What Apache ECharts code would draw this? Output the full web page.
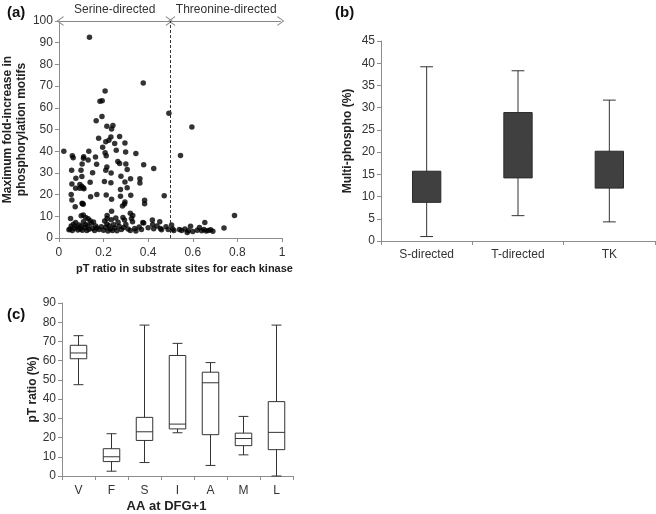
<!DOCTYPE html>
<html>
<head>
<meta charset="utf-8">
<script src="https://cdn.jsdelivr.net/npm/echarts@6/dist/echarts.min.js"></script>
<style>
  html, body { margin: 0; padding: 0; background: #fff; }
  #chart { width: 656px; height: 514px; }
</style>
</head>
<body>
<div id="chart"></div>
<script>
// (a) pT ratio vs max fold-increase, one point per kinase
const scatterPoints = [
  [0.137, 92.5], [0.378, 71.4], [0.207, 67.7], [0.184, 63], [0.194, 63.2],
  [0.193, 56], [0.493, 57.5], [0.596, 51.2], [0.167, 54], [0.215, 51.5],
  [0.242, 51.8], [0.236, 50.2], [0.178, 46], [0.233, 46.5], [0.272, 46.8],
  [0.224, 45], [0.21, 44.4], [0.25, 43.6], [0.296, 43.8], [0.196, 41.8],
  [0.022, 40], [0.134, 40], [0.207, 39.3], [0.257, 40.4], [0.299, 39.6],
  [0.345, 38.9], [0.06, 37.9], [0.064, 37], [0.111, 37.5], [0.11, 36.8],
  [0.164, 37.3], [0.212, 37.9], [0.545, 38], [0.131, 36], [0.264, 35.3],
  [0.272, 34.3], [0.169, 34], [0.104, 34.1], [0.38, 33.8], [0.3, 34.1],
  [0.306, 31.6], [0.425, 32], [0.057, 31.2], [0.099, 31.2], [0.21, 31.2],
  [0.215, 32.7], [0.234, 30], [0.151, 30.1], [0.278, 28.4], [0.076, 27.5],
  [0.103, 28.3], [0.321, 27.3], [0.363, 27.3], [0.363, 25.3], [0.14, 25.7],
  [0.058, 24.9], [0.094, 24.6], [0.102, 23.8], [0.094, 22.9], [0.109, 23.1],
  [0.204, 26], [0.233, 25.5], [0.296, 25.8], [0.075, 22.9], [0.112, 22.7],
  [0.276, 22.3], [0.306, 23.2], [0.472, 19.5], [0.17, 20.1], [0.212, 19.8],
  [0.276, 19.2], [0.055, 20.1], [0.058, 17.5], [0.104, 16], [0.109, 15.6],
  [0.106, 15.8], [0.384, 17.4], [0.384, 15.8], [0.142, 19], [0.236, 17.8],
  [0.296, 16.6], [0.285, 14.7], [0.294, 15.7], [0.073, 14.4], [0.322, 19.7],
  [0.236, 12.3], [0.109, 10.6], [0.32, 11.4], [0.331, 10.4], [0.787, 10.4],
  [0.052, 9], [0.131, 8.9], [0.216, 10.4], [0.216, 9], [0.255, 9.2],
  [0.287, 9.5], [0.294, 8.3], [0.419, 8.3], [0.452, 7.5], [0.654, 7.2],
  [0.376, 7.2], [0.325, 9], [0.1, 10.2], [0.12, 9.5],
  [0.045, 3.8], [0.05, 4.2], [0.055, 5.5], [0.06, 3.5], [0.065, 6.3],
  [0.07, 4.5], [0.075, 7.2], [0.08, 5.1], [0.085, 3.7], [0.09, 6.0],
  [0.095, 4.1], [0.1, 5.4], [0.105, 3.6], [0.11, 7.5], [0.115, 4.8],
  [0.12, 6.2], [0.125, 3.4], [0.13, 5.6], [0.135, 4.0], [0.14, 8.0],
  [0.145, 6.8], [0.15, 4.4], [0.155, 7.4], [0.16, 3.5], [0.165, 5.5],
  [0.17, 4.6], [0.18, 3.9], [0.19, 5.2], [0.2, 3.6], [0.205, 7.8],
  [0.21, 4.9], [0.215, 6.4], [0.22, 3.2], [0.225, 5.6], [0.23, 4.1],
  [0.235, 8.4], [0.24, 3.4], [0.245, 6.1], [0.25, 4.7], [0.26, 3.3],
  [0.265, 7.3], [0.27, 5.4], [0.28, 3.9], [0.29, 4.8], [0.3, 6.2],
  [0.31, 4.2], [0.32, 3.5], [0.33, 7.5], [0.34, 4.4], [0.345, 3.2],
  [0.36, 5.1], [0.37, 3.9], [0.38, 6.9], [0.4, 4.7], [0.42, 6.2],
  [0.425, 4.3], [0.44, 5.5], [0.455, 4.4], [0.46, 3.8], [0.48, 5.2],
  [0.49, 3.9], [0.505, 6.0], [0.51, 4.1], [0.515, 3.4], [0.54, 3.9],
  [0.55, 3.5], [0.565, 4.2], [0.575, 2.5], [0.58, 3.3], [0.59, 5.4],
  [0.6, 3.0], [0.62, 3.6], [0.63, 4.8], [0.64, 3.3], [0.65, 3.9],
  [0.66, 3.2], [0.67, 3.5], [0.68, 3.8], [0.69, 3.1], [0.74, 4.6]
];

// (b) multi-phospho boxes: [min, q1, median, q3, max]
const groupB = ['S-directed', 'T-directed', 'TK'];
const boxB = [
  [1.0, 8.7, 12.0, 15.7, 39.2],
  [5.7, 14.2, 21.0, 28.9, 38.3],
  [4.3, 11.9, 16.0, 20.2, 31.7]
];

// (c) pT ratio by residue at DFG+1
const groupC = ['V', 'F', 'S', 'I', 'A', 'M', 'L'];
const boxC = [
  [47.5, 61, 64, 68, 73],
  [2.5, 7.5, 10, 14.2, 22],
  [7, 18.5, 23, 30.5, 78.5],
  [22.5, 24.5, 27, 62.7, 69],
  [5.5, 21.5, 48.5, 54, 59],
  [11, 15.8, 19.5, 22.3, 31],
  [0, 13.7, 22.7, 38.7, 78.5]
];

const chart = echarts.init(document.getElementById('chart'));
const font = 'Liberation Sans, Arial, sans-serif';
const axisGray = '#8c8c8c';

// box + whisker drawn with the axis scales
function boxRenderer(opt) {
  return function (params, api) {
    const i = api.value(0);
    const cx = api.coord([i, 0])[0];
    const band = api.size([1, 0])[0];
    const half = band * opt.boxRatio / 2;
    const cap = band * opt.capRatio / 2;
    const y = [1, 2, 3, 4, 5].map(k => api.coord([i, api.value(k)])[1]);
    const line = { stroke: opt.line, lineWidth: 1 };
    return {
      type: 'group',
      children: [
        { type: 'line', shape: { x1: cx, y1: y[4], x2: cx, y2: y[0] }, style: line },
        { type: 'line', shape: { x1: cx - cap, y1: y[4], x2: cx + cap, y2: y[4] }, style: line },
        { type: 'line', shape: { x1: cx - cap, y1: y[0], x2: cx + cap, y2: y[0] }, style: line },
        { type: 'rect', shape: { x: cx - half, y: y[3], width: half * 2, height: y[1] - y[3] },
          style: { fill: opt.fill, stroke: opt.border, lineWidth: 1 } },
        { type: 'line', shape: { x1: cx - half, y1: y[2], x2: cx + half, y2: y[2] },
          style: { stroke: opt.median, lineWidth: 1 } }
      ]
    };
  };
}

const chevron = 'path://M0,12 L6,0 L12,12 L10.6,12 L6,2.6 L1.4,12 Z';

const option = {
  animation: false,
  textStyle: { fontFamily: font },
  title: [
    { text: '(a)', left: 2, top: 0, textStyle: { fontSize: 15, fontWeight: 'bold', color: '#111', fontFamily: font } },
    { text: '(b)', left: 330, top: 0, textStyle: { fontSize: 15, fontWeight: 'bold', color: '#111', fontFamily: font } },
    { text: '(c)', left: 2, top: 302, textStyle: { fontSize: 15, fontWeight: 'bold', color: '#111', fontFamily: font } }
  ],
  grid: [
    { left: 58, top: 21, width: 224, height: 217 },
    { left: 381, top: 41, width: 274, height: 200 },
    { left: 62, top: 303, width: 231, height: 177 }
  ],
  xAxis: [
    {
      gridIndex: 0, type: 'value', min: 0, max: 1, interval: 0.2,
      name: 'pT ratio in substrate sites for each kinase', nameLocation: 'middle', nameGap: 25,
      nameTextStyle: { fontWeight: 'bold', fontSize: 11, color: '#222', padding: [0, 0, 0, 28] },
      axisLine: { lineStyle: { color: axisGray } },
      axisTick: { show: true, length: 4, lineStyle: { color: axisGray } },
      axisLabel: { color: '#333', fontSize: 12, margin: 9 },
      splitLine: { show: false }
    },
    {
      gridIndex: 1, type: 'category', data: groupB,
      axisLine: { lineStyle: { color: axisGray } },
      axisTick: { show: true, length: 4, lineStyle: { color: axisGray } },
      axisLabel: { color: '#333', fontSize: 12, margin: 8 }
    },
    {
      gridIndex: 2, type: 'category', data: groupC,
      name: 'AA at DFG+1', nameLocation: 'middle', nameGap: 24,
      nameTextStyle: { fontWeight: 'bold', fontSize: 13, color: '#222', padding: [0, 22, 0, 0] },
      axisLine: { lineStyle: { color: axisGray } },
      axisTick: { show: true, length: 4, lineStyle: { color: axisGray } },
      axisLabel: { color: '#333', fontSize: 12, margin: 9 }
    }
  ],
  yAxis: [
    {
      gridIndex: 0, type: 'value', min: 0, max: 100, interval: 10,
      name: 'Maximum fold-increase in\nphosphorylation motifs', nameLocation: 'middle', nameGap: 29, nameRotate: 90,
      nameTextStyle: { fontWeight: 'bold', fontSize: 12, color: '#222', lineHeight: 14 },
      axisLine: { show: true, lineStyle: { color: axisGray } },
      axisTick: { show: true, length: 4, lineStyle: { color: axisGray } },
      axisLabel: { color: '#333', fontSize: 12, margin: 6 },
      splitLine: { show: false }
    },
    {
      gridIndex: 1, type: 'value', min: 0, max: 45, interval: 5,
      name: 'Multi-phospho (%)', nameLocation: 'middle', nameGap: 27, nameRotate: 90,
      nameTextStyle: { fontWeight: 'bold', fontSize: 12, color: '#222' },
      axisLine: { show: true, lineStyle: { color: axisGray } },
      axisTick: { show: true, length: 4, lineStyle: { color: axisGray } },
      axisLabel: { color: '#333', fontSize: 12, margin: 6 },
      splitLine: { show: false }
    },
    {
      gridIndex: 2, type: 'value', min: 0, max: 90, interval: 10,
      name: 'pT ratio (%)', nameLocation: 'middle', nameGap: 23, nameRotate: 90,
      nameTextStyle: { fontWeight: 'bold', fontSize: 12, color: '#222' },
      axisLine: { show: true, lineStyle: { color: axisGray } },
      axisTick: { show: true, length: 4, lineStyle: { color: axisGray } },
      axisLabel: { color: '#333', fontSize: 12, margin: 6 },
      splitLine: { show: false }
    }
  ],
  series: [
    {
      type: 'scatter', xAxisIndex: 0, yAxisIndex: 0,
      data: scatterPoints, symbolSize: 5.5,
      itemStyle: { color: '#000' },
      markLine: {
        silent: true,
        symbol: [chevron, chevron], symbolSize: [10, 7],
        lineStyle: { color: '#888', width: 1, type: 'solid' },
        label: { position: 'insideMiddleTop', distance: 5, color: '#333', fontSize: 12 },
        data: [
          [{ coord: [0.005, 100], name: 'Serine-directed' }, { coord: [0.495, 100] }],
          [{ coord: [0.505, 100], name: 'Threonine-directed' }, { coord: [0.995, 100] }],
          [
            { coord: [0.5, 0], symbol: 'none', lineStyle: { color: '#333', type: [3, 2] }, label: { show: false } },
            { coord: [0.5, 100], symbol: 'none' }
          ]
        ]
      }
    },
    {
      type: 'custom', xAxisIndex: 1, yAxisIndex: 1,
      data: boxB.map((b, i) => [i].concat(b)),
      renderItem: boxRenderer({ boxRatio: 0.31, capRatio: 0.14, fill: '#404040', border: '#2a2a2a', line: '#333', median: '#404040' }),
      encode: { x: 0, y: [1, 2, 3, 4, 5] }
    },
    {
      type: 'custom', xAxisIndex: 2, yAxisIndex: 2,
      data: boxC.map((b, i) => [i].concat(b)),
      renderItem: boxRenderer({ boxRatio: 0.5, capRatio: 0.3, fill: '#fff', border: '#333', line: '#333', median: '#333' }),
      encode: { x: 0, y: [1, 2, 3, 4, 5] }
    }
  ]
};

chart.setOption(option);
</script>
</body>
</html>
